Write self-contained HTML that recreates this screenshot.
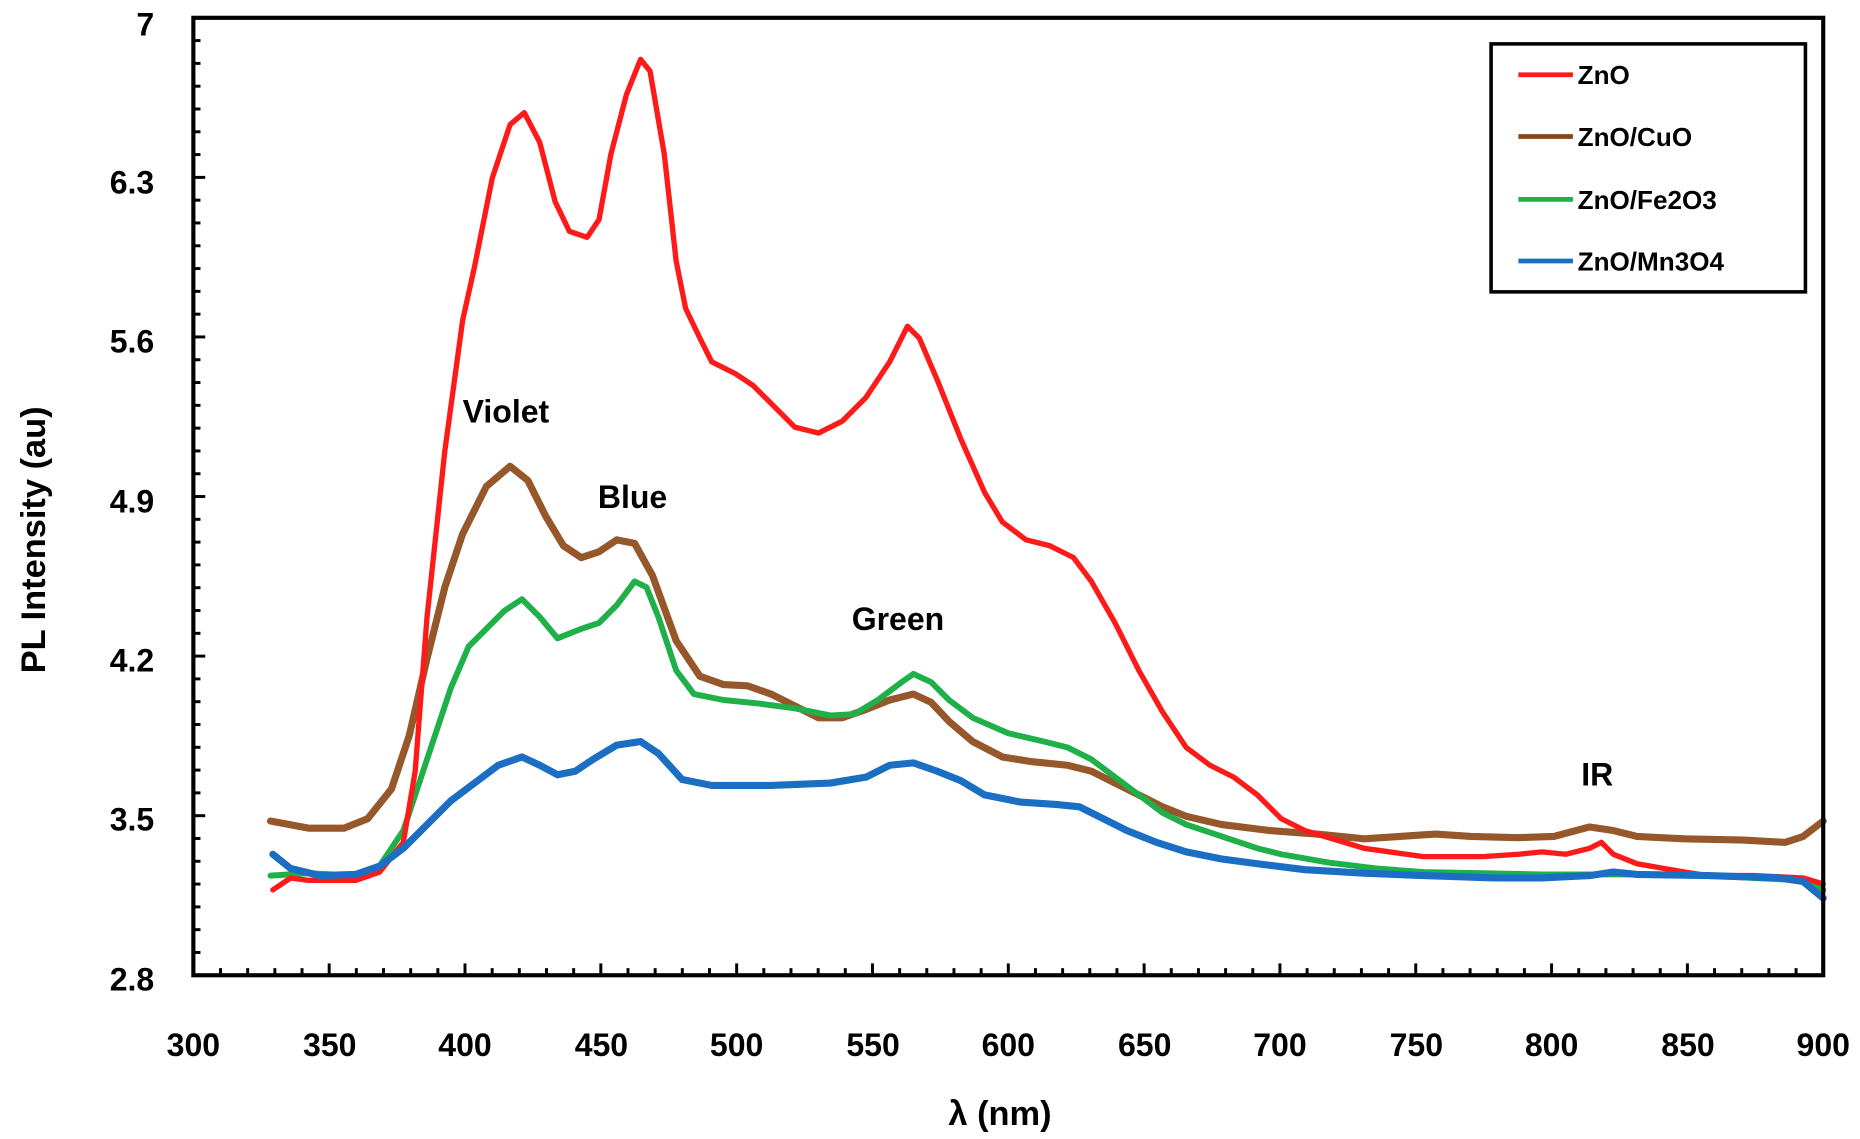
<!DOCTYPE html>
<html><head><meta charset="utf-8"><style>
html,body{margin:0;padding:0;background:#fff;}
svg{display:block;}
text{font-family:"Liberation Sans",sans-serif;font-weight:bold;fill:#000;}
</style></head><body>
<svg width="1860" height="1139" viewBox="0 0 1568 960" preserveAspectRatio="none" xmlns="http://www.w3.org/2000/svg">
<rect width="1568" height="960" fill="#fff"/>
<g id="ticks" stroke="#000" stroke-width="2.5"></g>
<g fill="none" stroke-linejoin="round" stroke-linecap="round">
<polyline stroke="#8B4513" stroke-width="6" stroke-opacity="0.9" points="228,692 260,698 290,698 310,690 330,665 345,620 360,555 375,495 390,450 410,410 430,393 445,405 460,435 475,460 490,470 505,465 520,455 535,458 550,485 570,540 590,570 610,577 630,578 650,585 670,595 690,605 710,605 730,598 750,590 770,585 785,592 800,608 820,625 845,638 870,642 900,645 920,650 940,660 960,670 980,680 1000,688 1030,695 1070,700 1110,703 1150,707 1180,705 1210,703 1240,705 1280,706 1310,705 1340,697 1360,700 1380,705 1420,707 1470,708 1505,710 1520,705 1537,692"/>
<polyline stroke="#1fb04a" stroke-width="5" points="228,738 260,736 300,738 320,730 340,700 360,640 380,580 395,545 410,530 425,515 440,505 455,520 470,538 490,530 505,525 520,510 535,490 545,495 555,520 570,565 585,585 610,590 640,593 670,597 700,603 720,602 740,590 760,575 770,568 785,575 800,590 820,605 850,618 880,625 900,630 920,640 940,655 960,670 980,685 1000,695 1030,705 1060,715 1080,720 1120,727 1160,732 1200,735 1250,736 1300,737 1350,737 1400,737 1440,738 1480,740 1520,742 1537,750"/>
<polyline stroke="#ff1a1a" stroke-width="4.5" points="230,750 245,740 260,742 300,742 320,735 340,710 350,650 360,520 375,380 390,270 400,225 415,150 430,105 442,95 455,120 468,170 480,195 495,200 505,185 515,130 528,80 540,50 548,60 560,130 570,220 578,260 590,285 600,305 620,315 635,325 650,340 670,360 690,365 710,355 730,335 750,305 765,275 775,285 790,320 810,370 830,415 845,440 865,455 885,460 905,470 920,490 940,525 960,565 980,600 1000,630 1020,645 1040,655 1060,670 1080,690 1100,700 1150,715 1200,722 1250,722 1280,720 1300,718 1320,720 1340,715 1350,710 1360,720 1380,728 1420,735 1440,738 1480,738 1520,740 1537,745"/>
<polyline stroke="#1a6fc4" stroke-width="6" points="230,720 245,732 270,738 300,737 320,730 340,715 360,695 380,675 400,660 420,645 440,638 455,645 470,653 485,650 500,640 520,628 540,625 555,635 575,657 600,662 650,662 700,660 730,655 750,645 770,643 790,650 810,658 830,670 860,676 890,678 910,680 930,690 950,700 975,710 1000,718 1030,724 1060,728 1100,733 1150,736 1200,738 1260,740 1300,740 1340,738 1360,735 1380,737 1440,738 1500,740 1520,743 1537,757"/>
</g>
<rect x="163" y="15" width="1374" height="807" fill="none" stroke="#000" stroke-width="3.5"/>
<g font-size="27" text-anchor="end">
<text x="130" y="30">7</text><text x="130" y="163">6.3</text><text x="130" y="297">5.6</text>
<text x="130" y="432">4.9</text><text x="130" y="566">4.2</text><text x="130" y="700">3.5</text><text x="130" y="835">2.8</text>
</g>
<g font-size="27" text-anchor="middle">
<text x="163" y="890">300</text><text x="278" y="890">350</text><text x="392" y="890">400</text><text x="507" y="890">450</text>
<text x="621" y="890">500</text><text x="736" y="890">550</text><text x="850" y="890">600</text><text x="965" y="890">650</text>
<text x="1079" y="890">700</text><text x="1194" y="890">750</text><text x="1308" y="890">800</text><text x="1423" y="890">850</text><text x="1537" y="890">900</text>
</g>
<text x="843" y="948" font-size="29" text-anchor="middle">λ (nm)</text>
<text transform="translate(38,455) rotate(-90)" font-size="29" text-anchor="middle">PL Intensity (au)</text>
<g font-size="27">
<text x="390" y="356">Violet</text><text x="504" y="428">Blue</text><text x="718" y="531">Green</text><text x="1333" y="662">IR</text>
</g>
<rect x="1257" y="37" width="265" height="209" fill="#fff" stroke="#000" stroke-width="3"/>
<g stroke-width="4">
<line x1="1280" y1="63" x2="1326" y2="63" stroke="#ff1a1a"/>
<line x1="1280" y1="115" x2="1326" y2="115" stroke="#8B4513"/>
<line x1="1280" y1="168" x2="1326" y2="168" stroke="#1fb04a"/>
<line x1="1280" y1="220" x2="1326" y2="220" stroke="#1a6fc4"/>
</g>
<g font-size="22">
<text x="1330" y="71">ZnO</text><text x="1330" y="123">ZnO/CuO</text><text x="1330" y="176">ZnO/Fe2O3</text><text x="1330" y="228">ZnO/Mn3O4</text>
</g>
</svg>
<script>
var g=document.getElementById('ticks'),s='';
for(var i=0;i<=42;i++){var y=15+i*807/42;var L=(i%7==0)?10:6;s+='<line x1="163" y1="'+y+'" x2="'+(163+L)+'" y2="'+y+'"/>';}
for(var i=0;i<=60;i++){var x=163+i*1374/60;var L=(i%5==0)?10:6;s+='<line x1="'+x+'" y1="822" x2="'+x+'" y2="'+(822-L)+'"/>';}
g.innerHTML=s;
</script>
</body></html>
